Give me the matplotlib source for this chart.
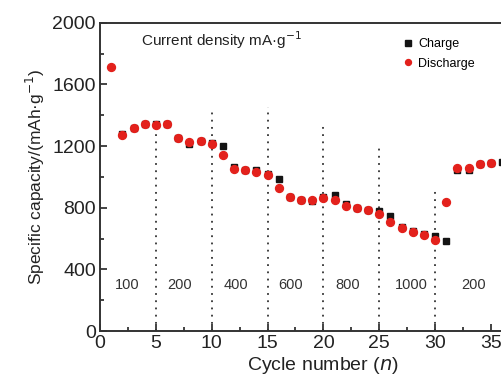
import matplotlib.pyplot as plt

plt.rcParams["font.family"] = ["Liberation Sans", "DejaVu Sans"]

# data
charge_cycles = list(range(2, 37))
charge_cap = [1280, 1316, 1340, 1342, 1342, 1251, 1210, 1234, 1220, 1197,
              1065, 1045, 1047, 1020, 986, 869, 850, 845, 870, 880,
              825, 800, 785, 780, 744, 675, 650, 632, 615, 585,
              1042, 1045, 1085, 1090, 1096]
discharge_cycles = list(range(1, 36))
discharge_cap = [1710, 1269, 1316, 1340, 1337, 1340, 1251, 1225, 1234, 1215,
                 1143, 1053, 1042, 1031, 1010, 930, 869, 850, 852, 865,
                 852, 811, 798, 783, 762, 708, 665, 643, 621, 589,
                 837, 1057, 1057, 1085, 1090]

divider_x = [5, 10, 15, 20, 25, 30]
divider_top = [1315, 1420, 1455, 1347, 1195, 925]
rate_labels = ["100", "200", "400", "600", "800", "1000", "200"]
rate_label_x = [2.4, 7.1, 12.2, 17.1, 22.2, 27.9, 33.4]

fig = plt.figure(figsize=(5.02, 3.83), dpi=100)
ax = fig.add_axes([100 / 502, 1 - 331 / 383, 40 * 11.17 / 502, (331 - 22.7) / 383])

for x, top in zip(divider_x, divider_top):
    ax.plot([x, x], [0, top], color="#333333", ls=(0, (1, 3)), lw=1.3)

ax.plot(charge_cycles, charge_cap, ls="none", marker="s", ms=5,
        color="#141414", label="Charge")
ax.plot(discharge_cycles, discharge_cap, ls="none", marker="o", ms=5.7,
        color="#e3211c", label="Discharge")

for lab, x in zip(rate_labels, rate_label_x):
    ax.text(x, 300, lab, ha="center", va="center", fontsize=10.5, color="#333333")

ax.text(3.7, 1885, "Current density mA·g$^{-1}$", ha="left", va="center",
        fontsize=11, color="#222222")

ax.legend(loc="upper left", bbox_to_anchor=(396 / 502, 1 - 32 / 383),
          bbox_transform=fig.transFigure, frameon=False, fontsize=9,
          markerscale=0.75, handletextpad=0.3, handlelength=1.0,
          labelspacing=0.6, borderpad=0)

ax.set_xlim(0, 40)
ax.set_ylim(0, 2000)
ax.set_xticks([0, 5, 10, 15, 20, 25, 30, 35, 40])
ax.set_xticks([2.5 + 5 * i for i in range(8)], minor=True)
ax.set_yticks([0, 400, 800, 1200, 1600, 2000])
ax.set_yticks([200, 600, 1000, 1400, 1800], minor=True)
ax.tick_params(which="both", direction="in", labelsize=14, width=1.2,
               colors="#222222")
ax.tick_params(which="major", length=5, pad=3)
ax.tick_params(which="minor", length=3)
ax.spines["right"].set_visible(False)
for s in ["left", "bottom", "top"]:
    ax.spines[s].set_linewidth(1.4)
    ax.spines[s].set_color("#333333")

ax.set_xlabel("Cycle number ($\\mathit{n}$)", fontsize=14, color="#222222", labelpad=2)
ax.set_ylabel("Specific capacity/(mAh·g$^{-1}$)", fontsize=12.5, color="#222222",
              labelpad=4)

fig.savefig("out.png", dpi=100)
